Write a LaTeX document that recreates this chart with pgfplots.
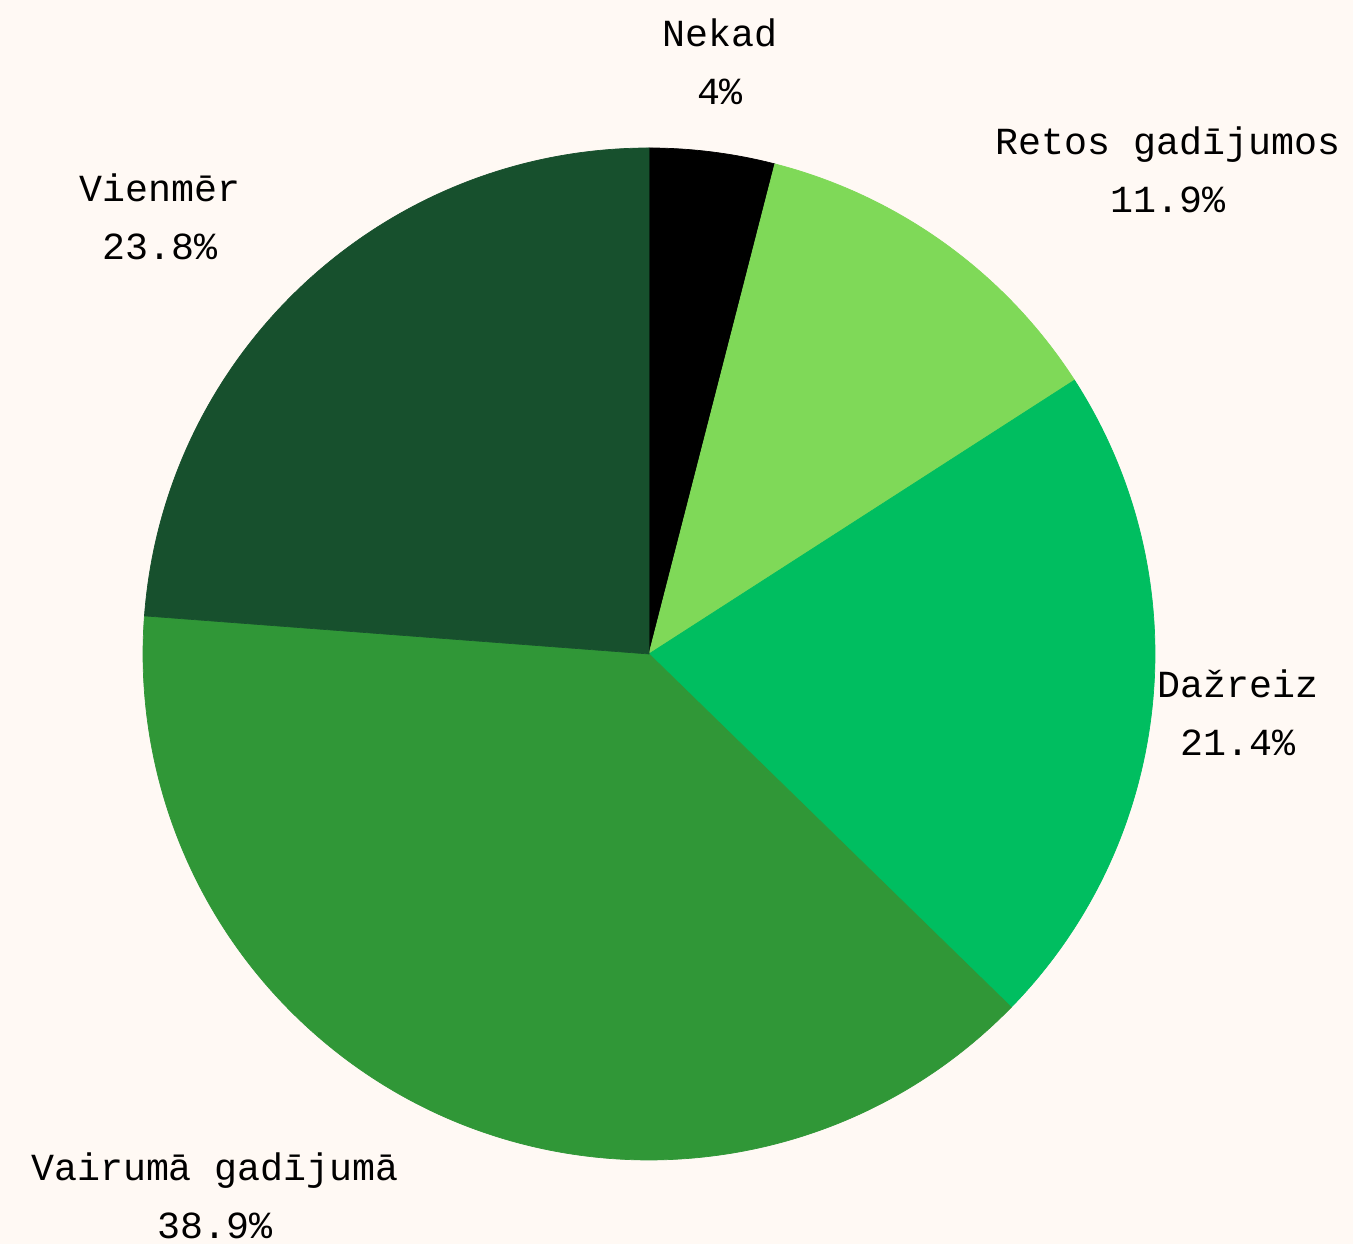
\documentclass[border=0pt]{standalone}
\usepackage{fontspec}
\setmainfont{Liberation Mono}
\usepackage{pgfplots}
\pgfplotsset{compat=1.18}

\definecolor{bg}{HTML}{FFF9F4}
\definecolor{cnekad}{HTML}{000000}
\definecolor{cretos}{HTML}{7FD958}
\definecolor{cdazreiz}{HTML}{00BE60}
\definecolor{cvairuma}{HTML}{309737}
\definecolor{cvienmer}{HTML}{17502D}

% slice: colour, cumulative share before it (%), share (%)
\newcommand{\slice}[3]{%
  \fill[#1, draw=#1, line width=0.2pt] (axis cs:649,590) -- ++({90-3.6*#2}:5.06cm)
    arc[start angle={90-3.6*#2}, delta angle={-3.6*#3}, radius=5.06cm] -- cycle;}

\begin{document}
\begin{tikzpicture}
\begin{axis}[
    width=13.53cm, height=12.44cm, scale only axis,
    xmin=0, xmax=1353, ymin=0, ymax=1244,
    hide axis, clip=false,
]
\fill[bg] (rel axis cs:0,0) rectangle (rel axis cs:1,1);

\slice{cnekad}{0}{4}
\slice{cretos}{4}{11.9}
\slice{cdazreiz}{15.9}{21.4}
\slice{cvairuma}{37.3}{38.9}
\slice{cvienmer}{76.2}{23.8}

\begin{scope}[every node/.style={align=center, font=\fontsize{10.9}{16.5}\selectfont, text=black}]
\node at (axis cs:720,1182) {Nekad\\4\%};
\node at (axis cs:1168,1074) {Retos gadījumos\\11.9\%};
\node at (axis cs:1238,531) {Dažreiz\\21.4\%};
\node at (axis cs:215,48) {Vairumā gadījumā\\38.9\%};
\node at (axis cs:160,1027) {Vienmēr\\23.8\%};
\end{scope}
\end{axis}
\end{tikzpicture}
\end{document}
